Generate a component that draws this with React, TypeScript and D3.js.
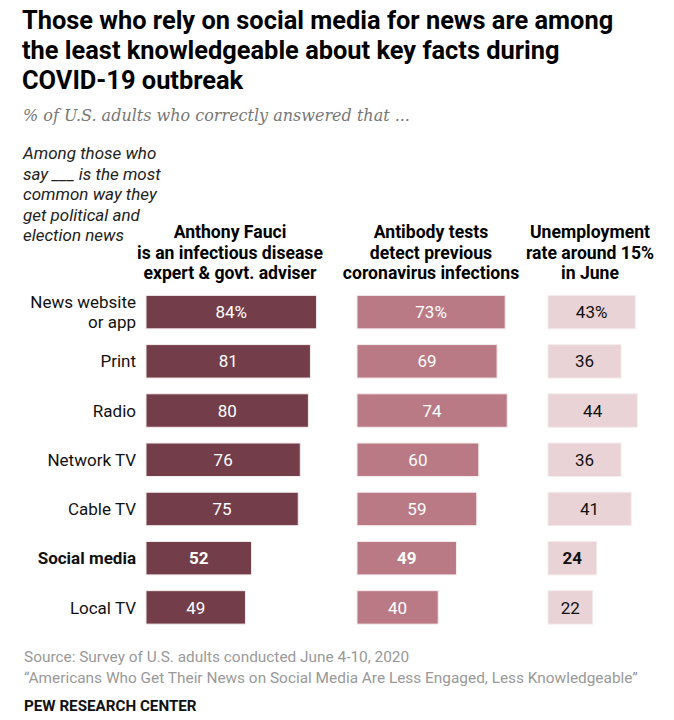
import React from "react";
import * as d3 from "d3";

const categories = ["News website\nor app", "Print", "Radio", "Network TV", "Cable TV", "Social media", "Local TV"];
const fauci = [84, 81, 80, 76, 75, 52, 49];
const antibody = [73, 69, 74, 60, 59, 49, 40];
const unemployment = [43, 36, 44, 36, 41, 24, 22];
const highlight = "Social media";

const panelHeaders = [
  ["Anthony Fauci", "is an infectious disease", "expert & govt. adviser"],
  ["Antibody tests", "detect previous", "coronavirus infections"],
  ["Unemployment", "rate around 15%", "in June"],
];
const titleLines = [
  "Those who rely on social media for news are among",
  "the least knowledgeable about key facts during",
  "COVID-19 outbreak",
];
const subtitle = "% of U.S. adults who correctly answered that ...";
const noteLines = ["Among those who", "say ___ is the most", "common way they", "get political and", "election news"];
const sourceLines = [
  "Source: Survey of U.S. adults conducted June 4-10, 2020",
  "\u201cAmericans Who Get Their News on Social Media Are Less Engaged, Less Knowledgeable\u201d",
];
const credit = "PEW RESEARCH CENTER";

const W = 674;
const H = 720;
const sans = "'Roboto', 'Liberation Sans', sans-serif";

export default function App() {
  const series = [
    { values: fauci, x0: 146, fill: "#733e49", text: "#fff" },
    { values: antibody, x0: 357, fill: "#ba7a85", text: "#fff" },
    { values: unemployment, x0: 548, fill: "#e9d3d6", text: "#111" },
  ];
  const unit = 2.03;
  const y = d3.scaleBand<string>().domain(categories).range([287.5, 632]).paddingInner(0.32).paddingOuter(0.16);

  return (
    <svg width={W} height={H} style={{ position: "absolute", left: 0, top: 0, background: "#fff" }}>
      <g fontFamily={sans} fontWeight="bold" fontSize={25.4} fill="#000">
        {titleLines.map((t, i) => (
          <text key={i} x={22} y={29 + i * 30}>{t}</text>
        ))}
      </g>
      <text x={23} y={121} fontFamily="'DejaVu Serif', Georgia, serif" fontStyle="italic" fontSize={16} fill="#777">{subtitle}</text>
      <g fontFamily={sans} fontStyle="italic" fontSize={17} fill="#222">
        {noteLines.map((t, i) => (
          <text key={i} x={23} y={159 + i * 20.6}>{t}</text>
        ))}
      </g>
      {series.map((s, si) => {
        const x = d3.scaleLinear().domain([0, 100]).range([s.x0, s.x0 + unit * 100]);
        const cx = [230, 431, 590][si];
        return (
          <g key={si}>
            <g fontFamily={sans} fontWeight="bold" fontSize={17.6} fill="#000" textAnchor="middle">
              {panelHeaders[si].map((t, i) => (
                <text key={i} x={cx} y={238 + i * 20.5}>{t}</text>
              ))}
            </g>
            {categories.map((c, i) => {
              const v = s.values[i];
              const by = y(c)!;
              const bw = x(v) - x(0);
              const bold = c === highlight;
              return (
                <g key={c}>
                  <rect x={x(0)} y={by} width={bw} height={y.bandwidth()} fill={s.fill} stroke="#f4eced" strokeWidth={1} />
                  <text
                    x={x(0) + bw / 2}
                    y={by + y.bandwidth() / 2}
                    dy="0.36em"
                    textAnchor="middle"
                    fontFamily={sans}
                    fontSize={17}
                    fontWeight={bold ? "bold" : "normal"}
                    fill={s.text}
                  >
                    {i === 0 ? `${v}%` : `${v}`}
                  </text>
                </g>
              );
            })}
          </g>
        );
      })}
      <g fontFamily={sans} fontSize={17} fill="#111" textAnchor="end">
        {categories.map((c) => {
          const lines = c.split("\n");
          const cy = y(c)! + y.bandwidth() / 2;
          const bold = c === highlight;
          return lines.map((l, j) => (
            <text key={c + j} x={136} y={cy + (j - (lines.length - 1) / 2) * 20} dy="0.36em" fontWeight={bold ? "bold" : "normal"}>{l}</text>
          ));
        })}
      </g>
      <g fontFamily={sans} fontSize={15.4} fill="#999">
        {sourceLines.map((t, i) => (
          <text key={i} x={24} y={662 + i * 21}>{t}</text>
        ))}
      </g>
      <text x={24} y={711} fontFamily={sans} fontWeight="bold" fontSize={15.2} fill="#111">{credit}</text>
    </svg>
  );
}
